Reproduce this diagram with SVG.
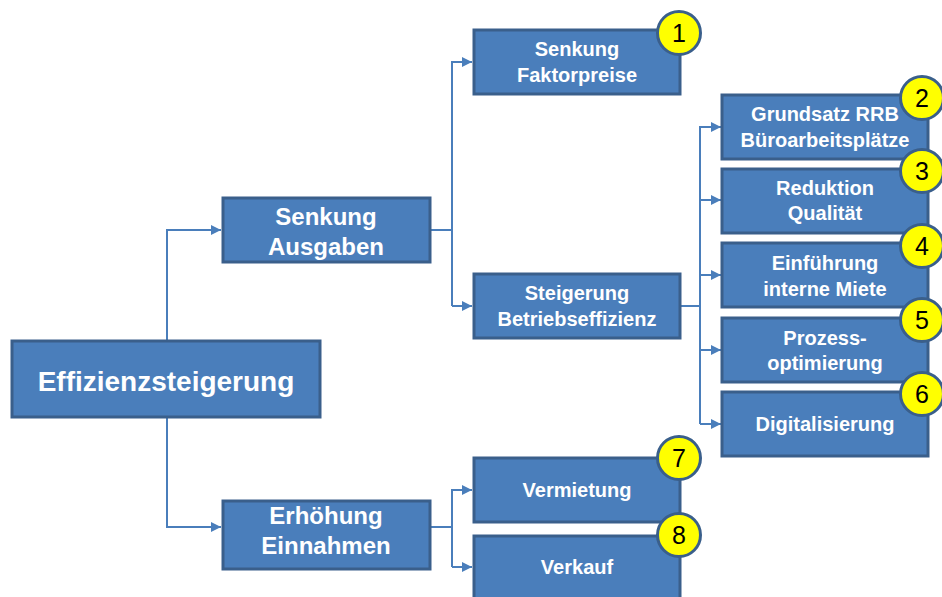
<svg xmlns="http://www.w3.org/2000/svg" width="942" height="597" viewBox="0 0 942 597">
<style>
.box{fill:#4a7ebb;stroke:#3a5f8b;stroke-width:3}
.t{font-family:"Liberation Sans",Arial,sans-serif;font-weight:bold;fill:#fff;text-anchor:middle;font-size:20px}
.t24{font-size:24px}
.t28{font-size:28px}
.c{fill:#ffff00;stroke:#3a5f8b;stroke-width:3}
.n{font-family:"Liberation Sans",Arial,sans-serif;fill:#000;text-anchor:middle;font-size:25px}
.ln{fill:none;stroke:#4a7ebb;stroke-width:2}
</style>
<defs>
<marker id="ah" viewBox="0 0 10 10" refX="10" refY="5" markerWidth="10" markerHeight="10" markerUnits="userSpaceOnUse" orient="auto">
<path d="M0,0 L10,5 L0,10 Z" fill="#4a7ebb"/>
</marker>
</defs>
<rect width="942" height="597" fill="#fff"/>
<g id="connectors">
<path class="ln" d="M167,341 V230 H221" marker-end="url(#ah)"/>
<path class="ln" d="M167,417 V527 H221" marker-end="url(#ah)"/>
<path class="ln" d="M430,230 H452"/>
<path class="ln" d="M452,306 V62 H472" marker-end="url(#ah)"/>
<path class="ln" d="M452,306 H472" marker-end="url(#ah)"/>
<path class="ln" d="M680,306 H700"/>
<path class="ln" d="M700,424 V127 H721" marker-end="url(#ah)"/>
<path class="ln" d="M700,200 H721" marker-end="url(#ah)"/>
<path class="ln" d="M700,275 H721" marker-end="url(#ah)"/>
<path class="ln" d="M700,350 H721" marker-end="url(#ah)"/>
<path class="ln" d="M700,424 H721" marker-end="url(#ah)"/>
<path class="ln" d="M430,527 H452"/>
<path class="ln" d="M452,567 V490 H472" marker-end="url(#ah)"/>
<path class="ln" d="M452,567 H472" marker-end="url(#ah)"/>
</g>
<g id="root">
<rect class="box" x="12" y="341" width="308" height="76"/>
<text class="t t28" x="166" y="391">Effizienzsteigerung</text>
</g>
<g id="senkung-ausgaben">
<rect class="box" x="223" y="198" width="207" height="64"/>
<text class="t t24" x="326" y="225">Senkung</text>
<text class="t t24" x="326" y="255">Ausgaben</text>
</g>
<g id="erhoehung-einnahmen">
<rect class="box" x="223" y="501" width="207" height="68"/>
<text class="t t24" x="326" y="524">Erhöhung</text>
<text class="t t24" x="326" y="554">Einnahmen</text>
</g>
<g id="senkung-faktorpreise">
<rect class="box" x="474" y="30" width="206" height="64"/>
<text class="t" x="577" y="56">Senkung</text>
<text class="t" x="577" y="82">Faktorpreise</text>
<circle class="c" cx="679" cy="33" r="21.5"/>
<text class="n" x="679" y="42">1</text>
</g>
<g id="steigerung-betriebseffizienz">
<rect class="box" x="474" y="274" width="206" height="64"/>
<text class="t" x="577" y="300">Steigerung</text>
<text class="t" x="577" y="326">Betriebseffizienz</text>
</g>
<g id="grundsatz">
<rect class="box" x="722" y="95" width="206" height="64"/>
<text class="t" x="825" y="121">Grundsatz RRB</text>
<text class="t" x="825" y="147">Büroarbeitsplätze</text>
<circle class="c" cx="922" cy="98" r="21.5"/>
<text class="n" x="922" y="107">2</text>
</g>
<g id="reduktion">
<rect class="box" x="722" y="169" width="206" height="64"/>
<text class="t" x="825" y="195">Reduktion</text>
<text class="t" x="825" y="220">Qualität</text>
<circle class="c" cx="922" cy="171" r="21.5"/>
<text class="n" x="922" y="180">3</text>
</g>
<g id="einfuehrung">
<rect class="box" x="722" y="243" width="206" height="64"/>
<text class="t" x="825" y="270">Einführung</text>
<text class="t" x="825" y="296">interne Miete</text>
<circle class="c" cx="922" cy="246" r="21.5"/>
<text class="n" x="922" y="255">4</text>
</g>
<g id="prozess">
<rect class="box" x="722" y="318" width="206" height="64"/>
<text class="t" x="825" y="345">Prozess-</text>
<text class="t" x="825" y="370">optimierung</text>
<circle class="c" cx="922" cy="320" r="21.5"/>
<text class="n" x="922" y="329">5</text>
</g>
<g id="digitalisierung">
<rect class="box" x="722" y="392" width="206" height="64"/>
<text class="t" x="825" y="431">Digitalisierung</text>
<circle class="c" cx="922" cy="394" r="21.5"/>
<text class="n" x="922" y="403">6</text>
</g>
<g id="vermietung">
<rect class="box" x="474" y="458" width="206" height="64"/>
<text class="t" x="577" y="497">Vermietung</text>
<circle class="c" cx="679" cy="458" r="21.5"/>
<text class="n" x="679" y="467">7</text>
</g>
<g id="verkauf">
<rect class="box" x="474" y="536" width="206" height="66"/>
<text class="t" x="577" y="574">Verkauf</text>
<circle class="c" cx="679" cy="535" r="21.5"/>
<text class="n" x="679" y="544">8</text>
</g>
</svg>
